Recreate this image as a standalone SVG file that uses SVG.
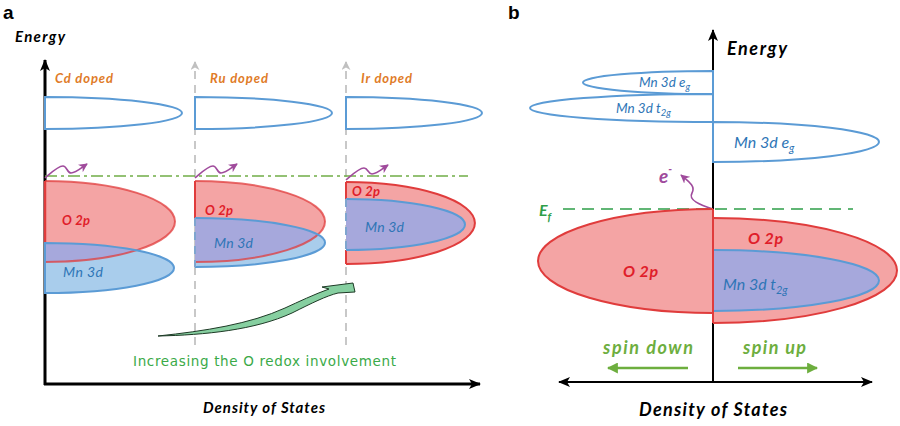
<svg xmlns="http://www.w3.org/2000/svg" width="900" height="426" viewBox="0 0 900 426">
<defs>
<style>
.lbl{font-family:Lato,"Liberation Sans",sans-serif;font-style:italic;font-weight:bold}
.panel{font-family:"Liberation Sans",Arial,sans-serif;font-weight:bold;font-size:19px;fill:#000}
.ax{font-size:15px;fill:#000}
.dope{font-size:13px;fill:#E07B28}
.o2p{fill:#E01E2A}
.mn{fill:#2E75B6;font-weight:normal}
.redf{fill:#F4A4A4;stroke:none}
.bluef{fill:#A9CDEC;stroke:none}
.lavf{fill:#A6A8DC;stroke:none}
.reds{fill:none;stroke:#E03C3C;stroke-width:2}
.blues{fill:none;stroke:#5B9BD5;stroke-width:2}
.outl{fill:#fff;stroke:#5B9BD5;stroke-width:2}
.axis{stroke:#000;fill:none}
.gdash{stroke:#C8C8C8;stroke-width:2;stroke-dasharray:8 6;fill:none}
.purp{stroke:#A04B9C;stroke-width:1.6;fill:none}
.spin{font-size:18px;fill:#6DAE3E}
</style>
<marker id="ahBlack" viewBox="0 0 12 10" refX="11" refY="5" markerWidth="12" markerHeight="10" markerUnits="userSpaceOnUse" orient="auto-start-reverse"><path d="M0,0 L12,5 L0,10 L3,5 Z" fill="#000"/></marker>
<marker id="ahGray" viewBox="0 0 10 10" refX="9" refY="5" markerWidth="9" markerHeight="9" markerUnits="userSpaceOnUse" orient="auto"><path d="M0,0 L10,5 L0,10 L3,5 Z" fill="#C0C0C0"/></marker>
<marker id="ahPurp" viewBox="0 0 10 10" refX="9" refY="5" markerWidth="9" markerHeight="9" markerUnits="userSpaceOnUse" orient="auto"><path d="M0,0 L10,5 L0,10 L3,5 Z" fill="#A04B9C"/></marker>
<marker id="ahGreen" viewBox="0 0 10 10" refX="9" refY="5" markerWidth="11" markerHeight="11" markerUnits="userSpaceOnUse" orient="auto"><path d="M0,0 L10,5 L0,10 Z" fill="#6DAE3E"/></marker>
<clipPath id="clipCd"><path d="M45,181 A130 40.5 0 0 1 45,262 Z"/></clipPath>
<clipPath id="clipRu"><path d="M195,181 A130 40.5 0 0 1 195,262 Z"/></clipPath>
</defs>
<rect width="900" height="426" fill="#fff"/>

<g id="panel-a">
<text class="panel" x="3" y="19">a</text>
<text class="lbl ax" x="15" y="42" textLength="50">Energy</text>
<text class="lbl ax" x="203" y="413" textLength="122">Density of States</text>
</g>

<g id="connectors">
<line class="gdash" x1="195" y1="345" x2="195" y2="62" marker-end="url(#ahGray)"/>
<line class="gdash" x1="346" y1="345" x2="346" y2="62" marker-end="url(#ahGray)"/>
<line class="axis" x1="45" y1="385" x2="45" y2="60" stroke-width="3" marker-end="url(#ahBlack)"/>
<line class="axis" x1="44" y1="384" x2="480" y2="384" stroke-width="3" marker-end="url(#ahBlack)"/>
<line x1="45" y1="176" x2="468" y2="176" stroke="#70AD47" stroke-width="1.6" stroke-dasharray="12 4 3 4"/>
<path class="purp" d="M45,178 C52,172 58,166 63,166 C67,166 67,173 71,173 C76,173 81,168 87,164" marker-end="url(#ahPurp)"/>
<path class="purp" d="M195,178 C202,172 208,166 213,166 C217,166 217,173 221,173 C226,173 231,168 237,164" marker-end="url(#ahPurp)"/>
<path class="purp" d="M346,180 C353,174 359,168 364,168 C368,168 368,174 372,174 C377,174 382,169 388,165" marker-end="url(#ahPurp)"/>
<path id="green-block-arrow" d="M158,336 C205,335 255,330 292,313 C312,303 326,296 338,293 L355,292 L353,283 L322,287 L329,289 C315,294 298,302 285,308 C250,324 205,331 158,336 Z" fill="#86CFA0" stroke="#1E3A26" stroke-width="1"/>
<line class="axis" x1="713" y1="382" x2="713" y2="30" stroke-width="2" marker-end="url(#ahBlack)"/>
<line class="axis" x1="559" y1="382" x2="872" y2="382" stroke-width="2" marker-start="url(#ahBlack)" marker-end="url(#ahBlack)"/>
<line x1="563" y1="209" x2="853" y2="209" stroke="#2E9E48" stroke-width="1.6" stroke-dasharray="12 7"/>
<path class="purp" d="M713,209 C700,205 688,200 692,193 C696,186 688,181 681,175" marker-end="url(#ahPurp)"/>
<line x1="688" y1="368" x2="608" y2="368" stroke="#6DAE3E" stroke-width="2.5" marker-end="url(#ahGreen)"/>
<line x1="738" y1="368" x2="817" y2="368" stroke="#6DAE3E" stroke-width="2.5" marker-end="url(#ahGreen)"/>
</g>

<g id="cd-doped">
<text class="lbl dope" x="55" y="83" textLength="58">Cd doped</text>
<path class="outl" d="M45,97 A137 16 0 0 1 45,129 Z"/>
<path class="redf" d="M45,181 A130 40.5 0 0 1 45,262 Z"/>
<path class="bluef" d="M45,243 A129 25 0 0 1 45,293 Z"/>
<path class="lavf" clip-path="url(#clipCd)" d="M45,243 A129 25 0 0 1 45,293 Z"/>
<path class="reds" d="M45,181 A130 40.5 0 0 1 45,262" opacity="0.75"/>
<line x1="45" y1="181" x2="45" y2="243" stroke="#E03C3C" stroke-width="2.5"/>
<path class="blues" d="M45,243 A129 25 0 0 1 45,293 Z"/>
<text class="lbl o2p" x="62" y="225" font-size="13" textLength="28">O 2p</text>
<text class="lbl mn" x="63" y="277" font-size="14" textLength="40">Mn 3d</text>
</g>

<g id="ru-doped">
<text class="lbl dope" x="210" y="83" textLength="58">Ru doped</text>
<path class="outl" d="M195,97 A137 16 0 0 1 195,129 Z"/>
<path class="redf" d="M195,181 A130 40.5 0 0 1 195,262 Z"/>
<path class="bluef" d="M195,218 A130 24.5 0 0 1 195,267 Z"/>
<path class="lavf" clip-path="url(#clipRu)" d="M195,218 A130 24.5 0 0 1 195,267 Z"/>
<path class="reds" d="M195,181 A130 40.5 0 0 1 195,262" opacity="0.75"/>
<line x1="195" y1="181" x2="195" y2="218" stroke="#E03C3C" stroke-width="2"/>
<path class="blues" d="M195,218 A130 24.5 0 0 1 195,267"/>
<line x1="195" y1="218" x2="195" y2="267" stroke="#7FA5CF" stroke-width="2" stroke-dasharray="8 6"/>
<text class="lbl o2p" x="205" y="215" font-size="13" textLength="28">O 2p</text>
<text class="lbl mn" x="214" y="248" font-size="14" textLength="39">Mn 3d</text>
</g>

<g id="ir-doped">
<text class="lbl dope" x="361" y="83" textLength="51">Ir doped</text>
<path class="outl" d="M346,97 A136 16 0 0 1 346,129 Z"/>
<path class="redf" d="M346,182 A129 41 0 0 1 346,264 Z"/>
<path class="lavf" d="M346,199 A119 25.5 0 0 1 346,250 Z"/>
<path class="reds" d="M346,182 A129 41 0 0 1 346,264"/>
<line x1="346" y1="182" x2="346" y2="199" stroke="#E03C3C" stroke-width="2"/>
<line x1="346" y1="250" x2="346" y2="264" stroke="#E03C3C" stroke-width="2"/>
<path class="blues" d="M346,199 A119 25.5 0 0 1 346,250"/>
<line x1="346" y1="199" x2="346" y2="250" stroke="#7FA5CF" stroke-width="2" stroke-dasharray="8 6"/>
<text class="lbl o2p" x="352" y="196" font-size="13" textLength="28">O 2p</text>
<text class="lbl mn" x="365" y="232" font-size="14" textLength="39">Mn 3d</text>
</g>

<g id="redox-label">
<text x="133" y="366" font-family="'DejaVu Sans',sans-serif" font-size="13.5" fill="#3AAA48" textLength="263">Increasing the O redox involvement</text>
</g>

<g id="panel-b">
<text class="panel" x="508" y="19">b</text>
<text class="lbl" x="727" y="55" font-size="18" textLength="60">Energy</text>
<text class="lbl" x="639" y="416" font-size="18" textLength="148">Density of States</text>
</g>

<g id="b-mn3d-eg-down">
<path class="outl" d="M713,71 A130 11.5 0 0 0 713,94 Z"/>
<text class="lbl mn" x="639" y="87" font-size="13.5">Mn 3d e<tspan font-size="9.5" dy="3">g</tspan></text>
</g>
<g id="b-mn3d-t2g-down">
<path class="outl" d="M713,94 A183 14 0 0 0 713,122 Z"/>
<text class="lbl mn" x="616" y="113" font-size="13.5">Mn 3d t<tspan font-size="9.5" dy="3">2g</tspan></text>
</g>
<g id="b-mn3d-eg-up">
<path class="outl" d="M713,122 A166 20 0 0 1 713,162 Z"/>
<text class="lbl mn" x="734" y="148" font-size="16">Mn 3d e<tspan font-size="11" dy="4">g</tspan></text>
</g>

<g id="b-electron">
<text class="lbl" x="659" y="183" font-size="19" font-weight="normal" fill="#A04B9C">e<tspan font-size="11" dy="-10">-</tspan></text>
</g>
<g id="b-fermi">
<text class="lbl" x="539" y="216" font-size="16" fill="#2E9E48">E<tspan font-size="11" dy="5">f</tspan></text>
</g>

<g id="b-o2p-down">
<path class="redf" d="M713,209 A175 52 0 0 0 713,313 Z"/>
<path class="reds" d="M713,209 A175 52 0 0 0 713,313"/>
<text class="lbl o2p" x="623" y="277" font-size="16" textLength="35">O 2p</text>
</g>
<g id="b-o2p-up">
<path class="redf" d="M713,218 A184 52.5 0 0 1 713,323 Z"/>
<path class="lavf" d="M713,250 A166 30.5 0 0 1 713,311 Z"/>
<path class="reds" d="M713,218 A184 52.5 0 0 1 713,323"/>
<path class="blues" d="M713,250 A166 30.5 0 0 1 713,311"/>
<line x1="713" y1="209" x2="713" y2="323" stroke="#E03C3C" stroke-width="2"/>
<text class="lbl o2p" x="748" y="244" font-size="16" textLength="35">O 2p</text>
<text class="lbl mn" x="723" y="290" font-size="16">Mn 3d t<tspan font-size="11" dy="4">2g</tspan></text>
</g>

<g id="b-spin">
<text class="lbl spin" x="603" y="354" textLength="90">spin down</text>
<text class="lbl spin" x="743" y="354" textLength="63">spin up</text>
</g>
</svg>
